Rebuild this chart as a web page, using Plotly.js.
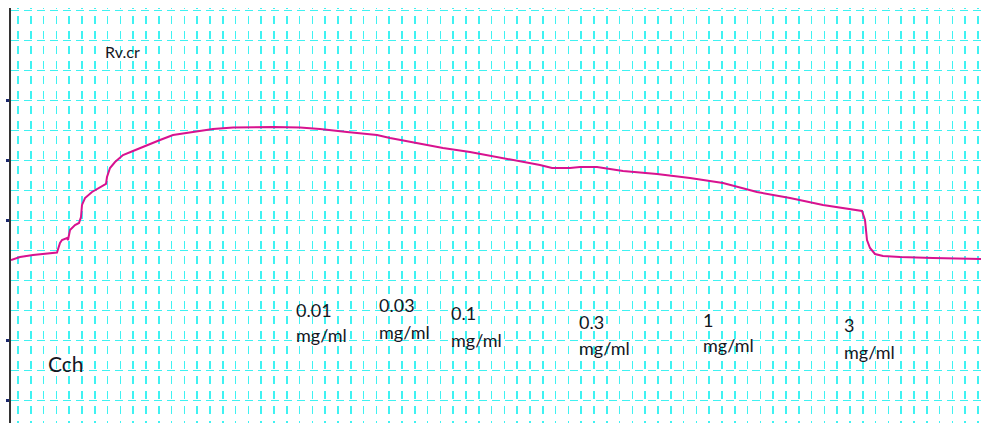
<!DOCTYPE html>
<html>
<head>
<meta charset="utf-8">
<script src="https://cdn.plot.ly/plotly-3.0.1.min.js"></script>
<style>html,body{margin:0;padding:0;background:#fff;}#chart{width:981px;height:423px;}</style>
</head>
<body>
<div id="chart"></div>
<script>
// Recording time (s) and tension (g)
const time = [0, 9, 22, 32, 46, 49, 51, 56, 57, 59, 64, 68, 70, 71, 74, 81, 89, 95, 96, 99, 104, 112, 122, 136, 149, 162, 182, 202, 222, 242, 262, 289, 309, 336, 366, 379, 406, 432, 459, 486, 512, 529, 541, 559, 569, 586, 612, 646, 679, 712, 746, 779, 812, 839, 851, 854, 856, 859, 864, 872, 889, 922, 970];
const tension = [4.683, 4.783, 4.85, 4.883, 4.933, 5.25, 5.35, 5.417, 5.35, 5.683, 5.85, 5.917, 6.117, 6.517, 6.75, 6.95, 7.117, 7.217, 7.45, 7.75, 7.95, 8.183, 8.317, 8.517, 8.683, 8.85, 8.95, 9.05, 9.1, 9.117, 9.117, 9.1, 9.05, 8.95, 8.85, 8.75, 8.583, 8.417, 8.283, 8.117, 7.95, 7.85, 7.75, 7.75, 7.783, 7.783, 7.65, 7.55, 7.417, 7.25, 6.95, 6.75, 6.517, 6.383, 6.317, 6.017, 5.35, 5.083, 4.883, 4.817, 4.783, 4.75, 4.717];
const doseLabels = ['0.01', '0.03', '0.1', '0.3', '1', '3'];
const unitLabel = 'mg/ml';
const tissueLabel = 'Rv.cr';
const agonistLabel = 'Cch';
const yTickVals = [0, 2, 6, 8, 10];

// layout placement of the dose labels (x in s, y of the two lines in g)
const doseX = [283, 366, 438, 566, 690, 831];
const doseY1 = [3.017, 3.183, 2.917, 2.617, 2.683, 2.517];
const doseY2 = [2.183, 2.283, 2.017, 1.75, 1.85, 1.617];

const gridCol = '#3ff2f2';
const txtCol = '#16161e';
const font = 'Lato, "Open Sans", sans-serif';
const yRange = [-0.75, 13.083];

const annotations = [];
doseLabels.forEach((d, i) => {
  annotations.push({x: doseX[i], y: doseY1[i], xref: 'x', yref: 'y', text: d, showarrow: false, xanchor: 'left', yanchor: 'middle', font: {family: font, size: 18, color: txtCol}});
  annotations.push({x: doseX[i], y: doseY2[i], xref: 'x', yref: 'y', text: unitLabel, showarrow: false, xanchor: 'left', yanchor: 'middle', font: {family: font, size: 18, color: txtCol}});
});
annotations.push({x: 92, y: 11.617, xref: 'x', yref: 'y', text: tissueLabel, showarrow: false, xanchor: 'left', yanchor: 'middle', font: {family: font, size: 16, color: txtCol}});
annotations.push({x: 35, y: 1.217, xref: 'x', yref: 'y', text: agonistLabel, showarrow: false, xanchor: 'left', yanchor: 'middle', font: {family: font, size: 21, color: txtCol}});

const trace = {
  x: time, y: tension, type: 'scatter', mode: 'lines',
  line: {color: '#d8128f', width: 2}, hoverinfo: 'skip'
};

const layout = {
  width: 981, height: 423,
  margin: {l: 11, r: 0, t: 8, b: 0},
  paper_bgcolor: '#ffffff', plot_bgcolor: '#ffffff',
  showlegend: false,
  xaxis: {
    range: [0, 970], showticklabels: false, ticks: '', zeroline: false, showline: false,
    showgrid: true, tickmode: 'linear', tick0: 7, dtick: 12.8,
    gridcolor: gridCol, gridwidth: 1.6, griddash: '1px,7px,8px,7px,7px,0px'
  },
  yaxis: {
    range: yRange, showticklabels: false, zeroline: false, ticks: '',
    showline: false,
    tickmode: 'linear', tick0: 0, dtick: 1,
    showgrid: true, gridcolor: gridCol, gridwidth: 1.6, griddash: '8px,5px'
  },
  yaxis2: {
    overlaying: 'y', side: 'left', range: yRange, showticklabels: false, zeroline: false,
    showgrid: false, showline: true, linecolor: '#333333', linewidth: 2,
    tickmode: 'array', tickvals: yTickVals, ticks: 'outside', ticklen: 3, tickwidth: 3, tickcolor: '#1c2a6e'
  },
  annotations: annotations
};

const axisTrace = {x: [], y: [], yaxis: 'y2', type: 'scatter', mode: 'lines', hoverinfo: 'skip'};

Plotly.newPlot('chart', [trace, axisTrace], layout, {displayModeBar: false, staticPlot: true});
</script>
</body>
</html>
